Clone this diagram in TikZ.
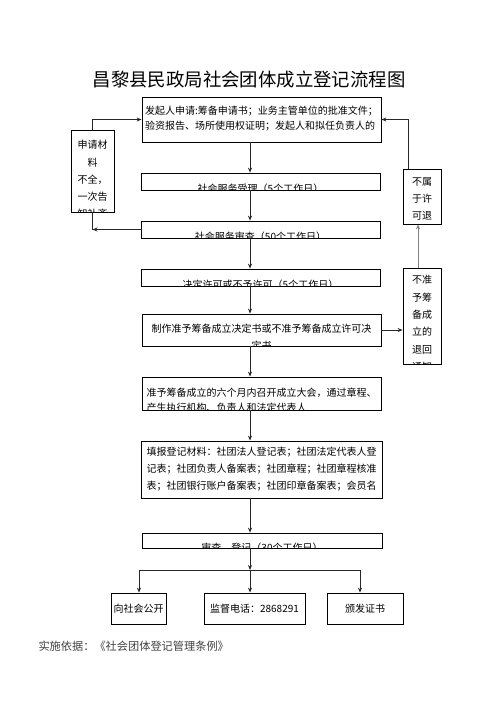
\documentclass[tikz,border=0pt]{standalone}
\usepackage{fontspec}
\setmainfont{Noto Sans CJK SC}
\usepackage{tikz}
\usetikzlibrary{arrows.meta,positioning,calc}

% text of a box, shifted down and cut at the box border
\newcommand{\boxtext}[4]{%
  \begin{scope}
    \clip (#1.south west) rectangle (#1.north east);
    \node[txt, #3] (#1-t) at ($(#1.center)+(0,#2)$) {#4};
  \end{scope}}

\begin{document}
\begin{tikzpicture}[
  x=1pt, y=-1pt,
  box/.style={rectangle, draw, line width=0.8pt, inner sep=0pt, font=\fontsize{10}{12}\selectfont},
  txt/.style={inner sep=0pt, align=center, font=\fontsize{10}{17}\selectfont},
  arrow/.style={-{Stealth[length=5pt,width=4pt]}, line width=0.8pt, black!85},
  uparrow/.style={arrow, black!50}
]
  \useasboundingbox (0,0) rectangle (496,702);
  \coordinate (ax) at (250,0);
  \coordinate (rx) at (408,0);
  \coordinate (ux) at (418,0);

  \node[font=\fontsize{18.4}{20}\selectfont] (title) at (249,80) {昌黎县民政局社会团体成立登记流程图};

  % main column
  \node[box, minimum width=239pt, minimum height=45pt] (apply) at (261.5,119.5) {};
  \boxtext{apply}{-1}{align=left, font=\fontsize{10}{15}\selectfont}{发起人申请:筹备申请书；业务主管单位的批准文件；\\验资报告、场所使用权证明；发起人和拟任负责人的}
  \node[box, minimum width=239pt, minimum height=17pt] (accept) at (260.5,181.5) {};
  \boxtext{accept}{7.5}{}{社会服务受理（5个工作日）}
  \node[box, minimum width=239pt, minimum height=17pt] (review) at (260.5,229.5) {};
  \boxtext{review}{7.5}{}{社会服务审查（50个工作日）}
  \node[box, minimum width=239pt, minimum height=17pt] (decide) at (260.5,277.5) {};
  \boxtext{decide}{7.5}{}{决定许可或不予许可（5个工作日）}
  \node[box, minimum width=239pt, minimum height=32pt] (make) at (261.5,330) {};
  \boxtext{make}{7}{}{制作准予筹备成立决定书或不准予筹备成立许可决\\定书}
  \node[box, minimum width=239pt, minimum height=33pt] (hold) at (261.5,393.5) {};
  \boxtext{hold}{7}{align=left, font=\fontsize{10}{15}\selectfont}{准予筹备成立的六个月内召开成立大会，通过章程、\\产生执行机构、负责人和法定代表人}
  \node[box, minimum width=241pt, minimum height=57pt] (fill) at (261.5,469.5) {};
  \boxtext{fill}{0}{align=left}{填报登记材料：社团法人登记表；社团法定代表人登\\记表；社团负责人备案表；社团章程；社团章程核准\\表；社团银行账户备案表；社团印章备案表；会员名}
  \node[box, minimum width=240pt, minimum height=15pt] (check) at (262,540.5) {};
  \boxtext{check}{7}{}{审查、登记（30个工作日）}

  % side boxes
  \node[box, minimum width=43pt, minimum height=82pt] (lack) at (92.5,171) {};
  \boxtext{lack}{8.5}{font=\fontsize{10}{17.3}\selectfont}{申请材\\料\\不全，\\一次告\\知补齐}
  \node[box, minimum width=38pt, minimum height=55pt] (outside) at (422,196.5) {};
  \boxtext{outside}{2.5}{font=\fontsize{10}{17.3}\selectfont}{不属\\于许\\可退}
  \node[box, minimum width=38pt, minimum height=96pt] (refuse) at (422,316) {};
  \boxtext{refuse}{7.5}{font=\fontsize{10}{17.4}\selectfont}{不准\\予筹\\备成\\立的\\退回\\通知}

  % results
  \node[box, minimum width=55pt, minimum height=31pt] (public) at (138.5,608.5) {向社会公开};
  \node[box, minimum width=101pt, minimum height=31pt] (phone) at (254.5,608.5) {监督电话：2868291};
  \node[box, minimum width=76pt, minimum height=31pt] (cert) at (365,608.5) {颁发证书};

  \node[anchor=west, font=\fontsize{11.2}{12}\selectfont, text=black!75] (basis) at (35,646) {实施依据：《社会团体登记管理条例》};

  \foreach \a/\b in {apply/accept, accept/review, review/decide, decide/make, make/hold, hold/fill, fill/check}
    \draw[arrow] (\a.south -| ax) -- (\b.north -| ax);

  \draw[arrow] (lack.north) |- (apply.west);
  \draw[line width=0.8pt, black!85] (lack.south) -- (lack.south |- review.west);
  \draw[arrow] (review.west) -- (lack.south |- review.west);

  \draw[arrow] (make.east) -- (make.east -| refuse.west);
  \draw[uparrow] (refuse.north -| ux) -- (outside.south -| ux);
  \draw[arrow] (outside.north -| rx) |- (apply.east);

  \coordinate (split) at (250,570);
  \coordinate (sl) at (139,570);
  \coordinate (sr) at (360,570);
  \draw[arrow] (check.south -| ax) -- (split);
  \draw[line width=0.8pt, black!85] (sl) -- (sr);
  \draw[arrow] (sl) -- (sl |- public.north);
  \draw[arrow] (split) -- (split |- phone.north);
  \draw[arrow] (sr) -- (sr |- cert.north);
\end{tikzpicture}
\end{document}
